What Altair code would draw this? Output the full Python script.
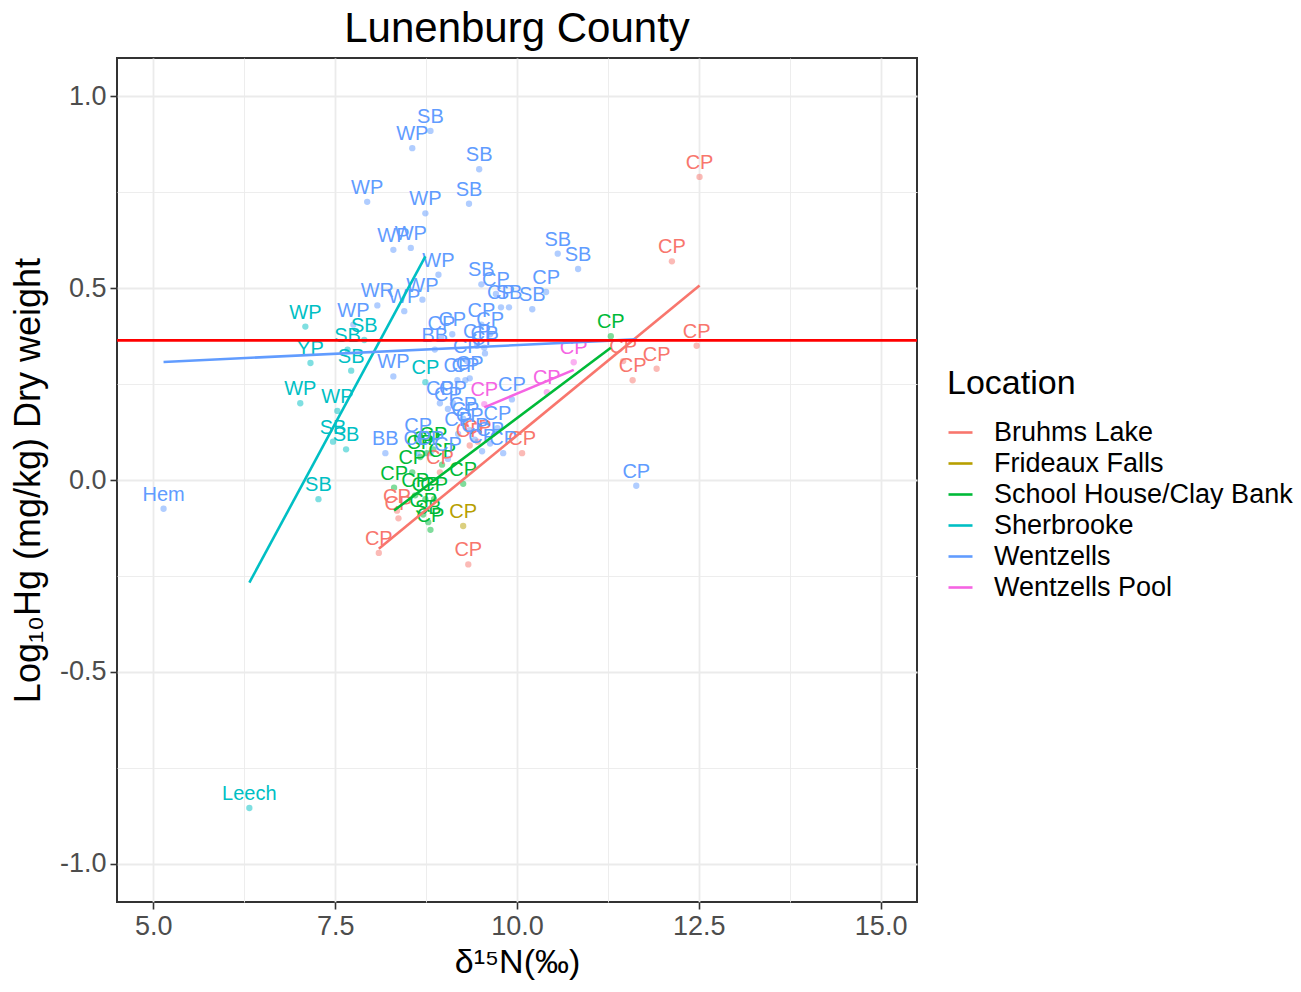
import altair as alt
import pandas as pd

# Sampling sites (legend order) and their hue colours
locations = ["Bruhms Lake", "Frideaux Falls", "School House/Clay Bank",
             "Sherbrooke", "Wentzells", "Wentzells Pool"]
palette = ["#F8766D", "#B79F00", "#00BA38", "#00BFC4", "#619CFF", "#F564E3"]

# delta 15N (per mil), log10 Hg dry weight, taxon code -- one set per site
bruhms_d15n = [12.51, 12.13, 12.47, 11.92, 11.59, 11.46, 10.07, 9.33, 8.10, 8.35, 8.37, 9.46, 9.35, 8.94]
bruhms_hg = [0.79, 0.57, 0.35, 0.29, 0.26, 0.31, 0.07, -0.22, -0.19, -0.08, -0.10, 0.10, 0.09, 0.02]
bruhms_taxa = ["CP", "CP", "CP", "CP", "CP", "CP", "CP", "CP", "CP", "CP", "CP", "CP", "CP", "CP"]

frideaux_d15n = [9.26]
frideaux_hg = [-0.12]
frideaux_taxa = ["CP"]

school_d15n = [11.29, 9.26, 8.31, 8.56, 8.67, 8.76, 8.85, 8.60, 8.74, 8.86, 8.71, 8.78, 8.81, 8.97]
school_hg = [0.375, -0.01, -0.02, 0.02, 0.06, 0.07, 0.08, -0.04, -0.05, -0.05, -0.09, -0.11, -0.13, 0.04]
school_taxa = ["CP", "CP", "CP", "CP", "CP", "CP", "CP", "CP", "CP", "CP", "CP", "SB", "CP", "CP"]

sherbrooke_d15n = [7.09, 7.16, 7.90, 7.67, 7.72, 7.02, 7.53, 7.47, 7.65, 7.27, 6.32, 8.74]
sherbrooke_hg = [0.40, 0.305, 0.365, 0.34, 0.285, 0.20, 0.18, 0.10, 0.08, -0.05, -0.855, 0.255]
sherbrooke_taxa = ["WP", "YP", "SB", "SB", "SB", "WP", "WP", "SB", "SB", "SB", "Leech", "CP"]

wentzells_d15n = [8.81, 8.56, 9.48, 7.94, 9.34, 8.74, 8.30, 8.54, 8.92, 9.51,
                  9.71, 8.08, 8.70, 8.45, 9.78, 9.89, 10.21, 10.40, 10.56, 10.84,
                  7.75, 8.30, 8.19, 5.14, 11.64, 9.11, 8.96, 8.87, 9.51, 9.63,
                  9.45, 9.55, 9.56, 9.31, 9.18, 9.29, 9.35, 8.94, 9.12, 9.93,
                  9.26, 9.29, 9.19, 9.42, 9.52, 9.81, 8.63, 8.81, 9.05, 8.64,
                  9.05, 9.35, 9.63, 9.73]
wentzells_hg = [0.91, 0.865, 0.81, 0.725, 0.72, 0.695, 0.60, 0.605, 0.535, 0.51,
                0.485, 0.455, 0.47, 0.44, 0.45, 0.45, 0.445, 0.49, 0.59, 0.55,
                0.405, 0.27, 0.07, -0.075, -0.015, 0.38, 0.37, 0.34, 0.405, 0.38,
                0.35, 0.345, 0.33, 0.31, 0.26, 0.26, 0.265, 0.20, 0.20, 0.21,
                0.16, 0.145, 0.12, 0.105, 0.075, 0.07, 0.07, 0.07, 0.055, 0.105,
                0.185, 0.13, 0.095, 0.135]
wentzells_taxa = ["SB", "WP", "SB", "WP", "SB", "WP", "WP", "WP", "WP", "SB",
                  "CP", "WR", "WP", "WP", "CP", "SB", "SB", "CP", "SB", "SB",
                  "WP", "WP", "BB", "Hem", "CP", "CP", "CP", "BB", "CP", "CP",
                  "CP", "CP", "CP", "CP", "CP", "CP", "CP", "CP", "CP", "CP",
                  "CP", "CP", "CP", "CP", "CP", "CP", "CP", "CP", "CP", "CP",
                  "CP", "CP", "CP", "CP"]

pool_d15n = [9.55, 10.41, 10.78]
pool_hg = [0.198, 0.229, 0.307]
pool_taxa = ["CP", "CP", "CP"]

# Reference level for log10 Hg
threshold_hg = [0.364]

# Axis breaks: majors carry labels, the quarter steps are minor grid lines
x_breaks = [5.0, 6.25, 7.5, 8.75, 10.0, 11.25, 12.5, 13.75, 15.0]
y_breaks = [-1.0, -0.75, -0.5, -0.25, 0.0, 0.25, 0.5, 0.75, 1.0]

site_data = [
    ("Bruhms Lake", bruhms_d15n, bruhms_hg, bruhms_taxa),
    ("Frideaux Falls", frideaux_d15n, frideaux_hg, frideaux_taxa),
    ("School House/Clay Bank", school_d15n, school_hg, school_taxa),
    ("Sherbrooke", sherbrooke_d15n, sherbrooke_hg, sherbrooke_taxa),
    ("Wentzells", wentzells_d15n, wentzells_hg, wentzells_taxa),
    ("Wentzells Pool", pool_d15n, pool_hg, pool_taxa),
]
rows = []
for site, xs, ys, taxa in site_data:
    for xv, yv, t in zip(xs, ys, taxa):
        rows.append({"Location": site, "d15N": xv, "logHg": yv, "Taxon": t})
df = pd.DataFrame(rows)
thr_df = pd.DataFrame({"logHg": threshold_hg})

FONT = "Liberation Sans"
major_x = "abs(datum.value / 2.5 - round(datum.value / 2.5)) < 0.001"
major_y = "abs(datum.value * 2 - round(datum.value * 2)) < 0.001"


def axis_for(values, test, title, title_size, **kw):
    return alt.Axis(
        values=values,
        labelExpr=f"{test} ? (datum.value < 0 ? '-' : '') + format(abs(datum.value), '.1f') : ''",
        labelOverlap=False,
        labelFlush=False,
        labelFont=FONT,
        labelFontSize=27,
        labelColor="#4D4D4D",
        tickColor={"condition": {"test": test, "value": "#333333"}, "value": "transparent"},
        tickSize=7,
        tickWidth=1.6,
        gridColor="#EBEBEB",
        gridWidth={"condition": {"test": test, "value": 1.8}, "value": 0.9},
        domain=False,
        title=title,
        titleFont=FONT,
        titleFontSize=title_size,
        titleFontWeight="normal",
        titleColor="black",
        **kw,
    )


x_enc = alt.X("d15N:Q", scale=alt.Scale(domain=[4.5, 15.5], nice=False, zero=False),
              axis=axis_for(x_breaks, major_x, "δ¹⁵N(‰)", 34, labelPadding=4, titlePadding=6))
y_enc = alt.Y("logHg:Q", scale=alt.Scale(domain=[-1.1, 1.1], nice=False, zero=False),
              axis=axis_for(y_breaks, major_y, "Log₁₀Hg (mg/kg) Dry weight", 36,
                            labelPadding=4, titlePadding=12))
color_enc = alt.Color(
    "Location:N",
    scale=alt.Scale(domain=locations, range=palette),
    legend=alt.Legend(
        title="Location", orient="none", legendX=830, legendY=309,
        symbolType="stroke", symbolStrokeWidth=2.6, symbolSize=576, symbolOpacity=1,
        labelFont=FONT, labelFontSize=27, labelColor="black", labelOffset=20, labelLimit=0,
        titleFont=FONT, titleFontSize=34, titleFontWeight="normal", titleColor="black",
        titlePadding=18, rowPadding=3, titleLimit=0,
    ),
)

base = alt.Chart(df)

points = base.mark_circle(size=40, opacity=0.5).encode(x=x_enc, y=y_enc, color=color_enc)

labels = base.mark_text(font=FONT, fontSize=20, dy=-14, align="center", baseline="middle").encode(
    x="d15N:Q", y="logHg:Q", text="Taxon:N", color=alt.Color("Location:N")
)

fits = (
    base.transform_filter("datum.Location != 'Frideaux Falls'")
    .transform_regression("d15N", "logHg", groupby=["Location"], method="linear")
    .mark_line(strokeWidth=2.6)
    .encode(x="d15N:Q", y="logHg:Q", color=alt.Color("Location:N"))
)

threshold = alt.Chart(thr_df).mark_rule(color="#FF0000", strokeWidth=2.6).encode(y="logHg:Q")

chart = (
    alt.layer(points, labels, fits, threshold)
    .properties(
        width=800,
        height=844,
        title=alt.Title("Lunenburg County", font=FONT, fontSize=42, fontWeight="normal",
                        color="black", anchor="middle", offset=7),
        autosize=alt.AutoSizeParams(type="none"),
        padding={"left": 117, "top": 58, "right": 384, "bottom": 90},
        view=alt.ViewBackground(stroke="#333333", strokeWidth=2),
    )
    .configure_view(stroke="#333333", strokeWidth=2)
    .configure(background="white")
)

chart.save("out.html", embed_options={"renderer": "svg", "actions": False})
